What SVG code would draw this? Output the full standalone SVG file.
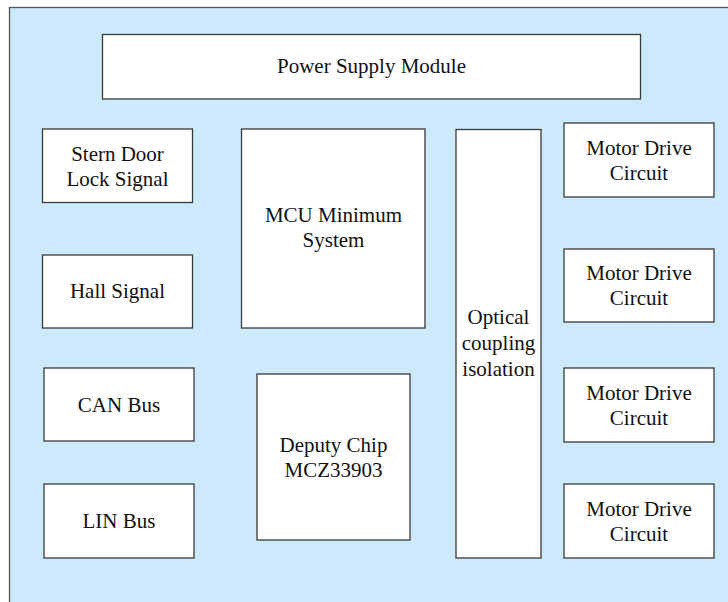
<svg xmlns="http://www.w3.org/2000/svg" width="728" height="602" viewBox="0 0 728 602">
<style>
.bg{fill:#cceafc;stroke:#555;stroke-width:1.3}
.box{fill:#fff;stroke:#3a3a3a;stroke-width:1.3}
text{font-family:'Liberation Serif','Tinos','Times New Roman','Noto Serif','DejaVu Serif',serif;font-size:21px;fill:#111;text-anchor:middle}
</style>
<rect width="728" height="602" fill="#fff"/>
<rect class="bg" x="9.5" y="7.5" width="740" height="620"/>
<g id="power"><rect class="box" x="102.5" y="34.5" width="538" height="64.5"/><text x="371.5" y="73">Power Supply Module</text></g>
<g id="stern"><rect class="box" x="42.5" y="129" width="150" height="73.5"/><text x="117.5" y="161">Stern Door</text><text x="117.5" y="186">Lock Signal</text></g>
<g id="hall"><rect class="box" x="42.5" y="255" width="150" height="73"/><text x="117.5" y="298">Hall Signal</text></g>
<g id="can"><rect class="box" x="44" y="368" width="150" height="73"/><text x="119" y="412">CAN Bus</text></g>
<g id="lin"><rect class="box" x="44" y="484" width="150" height="74"/><text x="119" y="528">LIN Bus</text></g>
<g id="mcu"><rect class="box" x="241.5" y="129" width="183.5" height="199"/><text x="333.5" y="222">MCU Minimum</text><text x="333.5" y="247">System</text></g>
<g id="deputy"><rect class="box" x="257" y="374" width="153" height="166"/><text x="333.5" y="452">Deputy Chip</text><text x="333.5" y="477">MCZ33903</text></g>
<g id="optical"><rect class="box" x="456" y="129.5" width="85" height="428.5"/><text x="498.5" y="324">Optical</text><text x="498.5" y="350">coupling</text><text x="498.5" y="376">isolation</text></g>
<g id="motor1"><rect class="box" x="564" y="123" width="150" height="74"/><text x="639" y="155">Motor Drive</text><text x="639" y="180">Circuit</text></g>
<g id="motor2"><rect class="box" x="564" y="249" width="150" height="73"/><text x="639" y="280">Motor Drive</text><text x="639" y="305">Circuit</text></g>
<g id="motor3"><rect class="box" x="564" y="368" width="150" height="74"/><text x="639" y="400">Motor Drive</text><text x="639" y="425">Circuit</text></g>
<g id="motor4"><rect class="box" x="564" y="484" width="150" height="74"/><text x="639" y="516">Motor Drive</text><text x="639" y="541">Circuit</text></g>
<g id="connectors"></g>
</svg>
